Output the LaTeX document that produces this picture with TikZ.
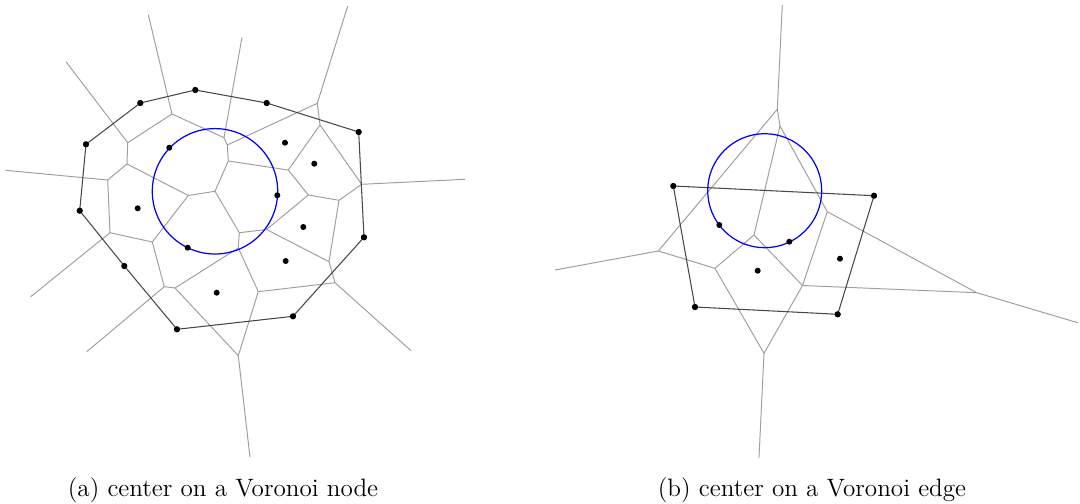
\documentclass[tikz,border=0pt]{standalone}
\begin{document}
\begin{tikzpicture}[x=0.02cm,y=-0.02cm,
  vor/.style={draw=black!38,line width=0.55pt},
  hull/.style={draw=black!72,line width=0.6pt},
  circ/.style={draw=blue,line width=0.7pt},
  site/.style={circle,fill=black,inner sep=0pt,minimum size=0.12cm},
  captext/.style={anchor=base,font=\fontsize{14.3}{17}\selectfont,inner sep=0pt}]
\useasboundingbox (0,0) rectangle (1080,504);
% ---------- panel (a): Voronoi vertices
\coordinate (a1) at (172,114);
\coordinate (a2) at (127.7,142.7);
\coordinate (a3) at (127,164);
\coordinate (a4) at (107.7,180);
\coordinate (a5) at (110,232.7);
\coordinate (a6) at (152.3,242);
\coordinate (a7) at (164.3,286.7);
\coordinate (a8) at (175,288);
\coordinate (a9) at (238.3,248);
\coordinate (a10) at (239.3,232.7);
\coordinate (a11) at (188.3,195.5);
\coordinate (a12) at (215,191.3);
\coordinate (a13) at (228.3,161);
\coordinate (a14) at (227.3,145);
\coordinate (a15) at (224,137.7);
\coordinate (a16) at (317.3,103.3);
\coordinate (a17) at (320,125);
\coordinate (a18) at (288.3,170);
\coordinate (a19) at (308.3,195);
\coordinate (a20) at (339,200.3);
\coordinate (a21) at (361.7,184.3);
\coordinate (a22) at (266.5,229.5);
\coordinate (a23) at (329,261.7);
\coordinate (a24) at (335,282.7);
\coordinate (a25) at (258.3,291.7);
\coordinate (a26) at (238.3,355.7);
% ray ends
\coordinate (r1) at (148.3,14.7);
\coordinate (r2) at (66,61.7);
\coordinate (r3) at (5.7,170.3);
\coordinate (r4) at (30.7,296.7);
\coordinate (r5) at (86.7,351.7);
\coordinate (r6) at (250,457.3);
\coordinate (r7) at (411,350.7);
\coordinate (r8) at (465,179.3);
\coordinate (r9) at (347.7,6);
\coordinate (r10) at (242,37.3);
% Voronoi edges
\draw[vor] (r1)--(a1)--(a2)--(r2);
\draw[vor] (a1)--(a15)--(r10);
\draw[vor] (a2)--(a3)--(a4)--(r3);
\draw[vor] (a3)--(a11);
\draw[vor] (a4)--(a5)--(r4);
\draw[vor] (a5)--(a6)--(a11);
\draw[vor] (a6)--(a7)--(r5);
\draw[vor] (a7)--(a8)--(a9)--(a10)--(a12)--(a11);
\draw[vor] (a8)--(a26)--(r6);
\draw[vor] (a9)--(a25)--(a26);
\draw[vor] (a10)--(a22);
\draw[vor] (a12)--(a13)--(a14)--(a15);
\draw[vor] (a14)--(a16)--(r9);
\draw[vor] (a13)--(a18)--(a17)--(a16);
\draw[vor] (a17)--(a21)--(r8);
\draw[vor] (a18)--(a19)--(a20)--(a21);
\draw[vor] (a19)--(a22)--(a23)--(a20);
\draw[vor] (a23)--(a24)--(r7);
\draw[vor] (a24)--(a25);
% hull
\node[site] (h1) at (177,329.3) {};
\node[site] (h2) at (124.3,266) {};
\node[site] (h3) at (79.7,210.7) {};
\node[site] (h4) at (86,144.3) {};
\node[site] (h5) at (140.3,103) {};
\node[site] (h6) at (195.3,90) {};
\node[site] (h7) at (266.7,103) {};
\node[site] (h8) at (358.7,132) {};
\node[site] (h9) at (364,237.3) {};
\node[site] (h10) at (293,316.3) {};
\draw[hull] (h1.center)--(h2.center)--(h3.center)--(h4.center)--(h5.center)--(h6.center)--(h7.center)--(h8.center)--(h9.center)--(h10.center)--cycle;
% circle
\draw[circ] (a12) circle[radius=62.7];
% interior sites
\node[site] (p1) at (137.7,208.3) {};
\node[site] (p2) at (169.3,147.7) {};
\node[site] (p3) at (285,142.7) {};
\node[site] (p4) at (314.3,163.7) {};
\node[site] (p5) at (277.3,195.3) {};
\node[site] (p6) at (303.3,227) {};
\node[site] (p7) at (285.7,261) {};
\node[site] (p8) at (187.7,247.7) {};
\node[site] (p9) at (216.7,292.7) {};
\foreach \i in {1,...,10} {\node[site] at (h\i) {};}
% ---------- panel (b)
\coordinate (b1) at (777.3,109.3);
\coordinate (b2) at (780,126);
\coordinate (b3) at (658.3,251);
\coordinate (b4) at (754,235);
\coordinate (b5) at (827.3,211.7);
\coordinate (b6) at (715,268.3);
\coordinate (b7) at (764,353.3);
\coordinate (b8) at (802.5,285.5);
\coordinate (b9) at (976.7,292.7);
\coordinate (s1) at (782.3,5);
\coordinate (s2) at (555,270);
\coordinate (s3) at (759,457.7);
\coordinate (s4) at (1077.7,322.7);
\draw[vor] (s1)--(b1)--(b2)--(b4)--(b6)--(b3)--(s2);
\draw[vor] (b1)--(b3);
\draw[vor] (b2)--(b5)--(b8)--(b4);
\draw[vor] (b6)--(b7)--(s3);
\draw[vor] (b7)--(b8)--(b9)--(s4);
\draw[vor] (b5)--(b9);
\node[site] (q1) at (673.3,186) {};
\node[site] (q2) at (874,195.7) {};
\node[site] (q3) at (837.7,314.3) {};
\node[site] (q4) at (695,307) {};
\draw[hull] (q1.center)--(q2.center)--(q3.center)--(q4.center)--cycle;
\coordinate (bc) at (764.7,190.7);
\draw[circ] (bc) circle[radius=57];
\node[site] (t1) at (719.3,225) {};
\node[site] (t2) at (789.3,241.7) {};
\node[site] (t3) at (757.7,270.7) {};
\node[site] (t4) at (840,258.7) {};
\foreach \i in {1,...,4} {\node[site] at (q\i) {};}
% captions
\node[captext] (capa) at (223,496) {(a) center on a Voronoi node};
\node[captext] (capb) at (812,496) {(b) center on a Voronoi edge};
\end{tikzpicture}
\end{document}
